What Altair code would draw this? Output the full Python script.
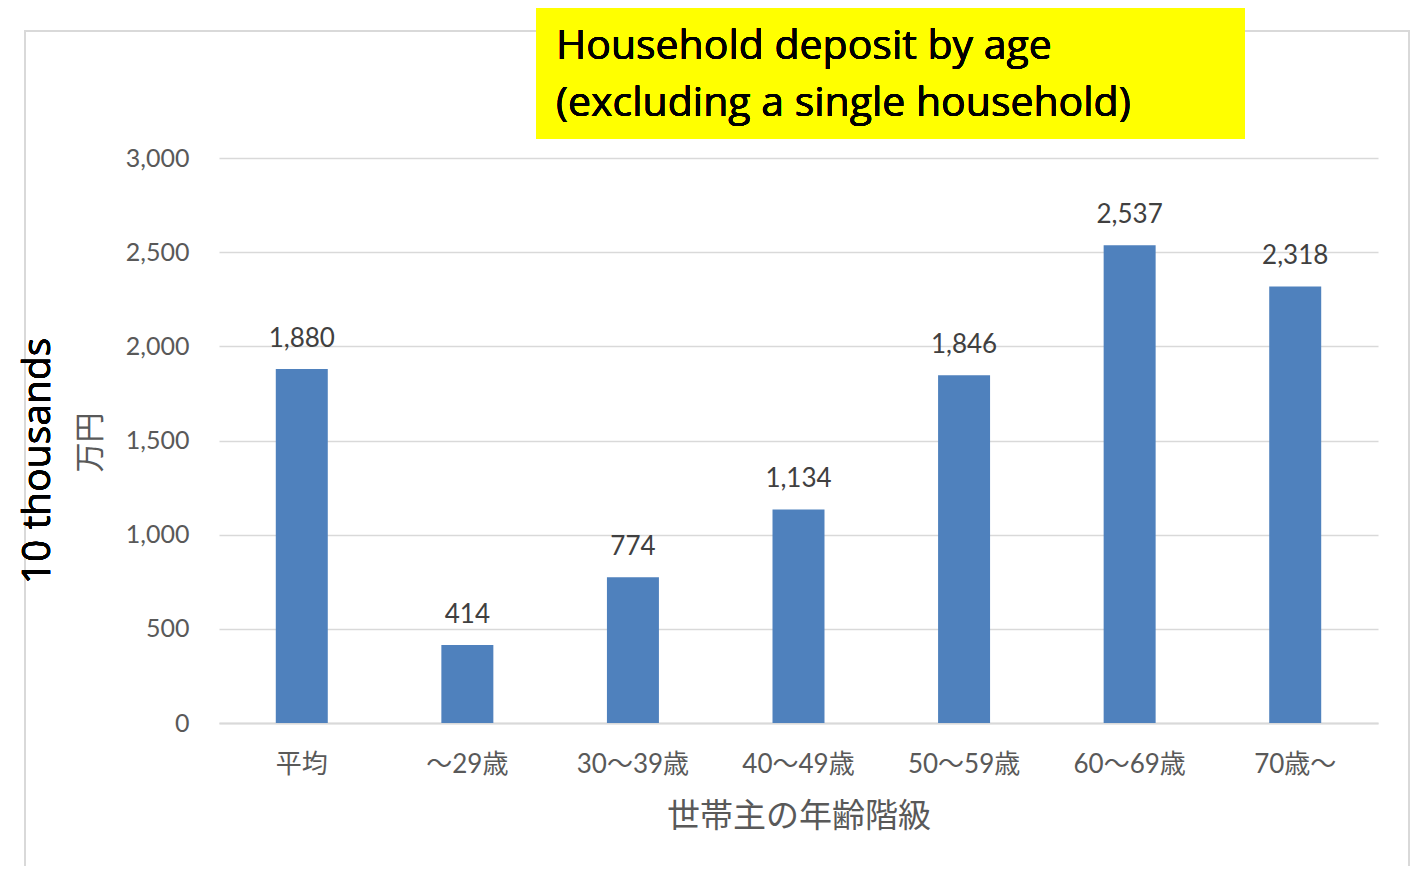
import altair as alt
import pandas as pd

categories = ["平均", "～29歳", "30～39歳", "40～49歳", "50～59歳", "60～69歳", "70歳～"]
values = [1880, 414, 774, 1134, 1846, 2537, 2318]
y_ticks = [0, 500, 1000, 1500, 2000, 2500, 3000]
title_lines = ["Household deposit by age", "(excluding a single household)"]
unit_label = "10 thousands"
y_title = "万円"
x_title = "世帯主の年齢階級"

df = pd.DataFrame({"cat": categories, "val": values})

LAT = "Lato, Noto Sans CJK JP, sans-serif"
OPS = "Open Sans, Noto Sans CJK JP, sans-serif"
GRAY = "#595959"

W, H = 1159, 565

base = alt.Chart(df)

border = base.mark_rect(fill=None, stroke="#d9d9d9", strokeWidth=2, clip=False).encode(
    x=alt.value(-194), x2=alt.value(1190), y=alt.value(-127), y2=alt.value(780)
)

bars = base.mark_bar(color="#4F81BD").encode(
    x=alt.X("cat:N", sort=categories,
            scale=alt.Scale(paddingInner=0.686, paddingOuter=0.343),
            axis=alt.Axis(title=x_title, labelAngle=0, labelFont=LAT, labelFontSize=26,
                          labelColor=GRAY, labelPadding=41, labelBaseline="middle",
                          ticks=False, tickSize=0, domainColor="#d9d9d9", domainWidth=2,
                          titleFont=LAT, titleFontSize=33, titleColor=GRAY,
                          titleFontWeight="normal", titleBaseline="middle",
                          titleX=W / 2, titleY=93, titleAnchor="middle")),
    y=alt.Y("val:Q", scale=alt.Scale(domain=[0, 3000], nice=False),
            axis=alt.Axis(values=y_ticks, format=",.0f", title=y_title, domain=False,
                          ticks=False, tickSize=0, labelFont=LAT, labelFontSize=25,
                          labelColor=GRAY, labelPadding=30, gridColor="#d9d9d9",
                          gridWidth=1.5, titleFont=LAT, titleFontSize=30,
                          titleColor=GRAY, titleFontWeight="normal", titleAngle=-90,
                          titleBaseline="middle", titleAlign="center",
                          titleX=-129, titleY=284)),
)

labels = base.mark_text(font=LAT, fontSize=26, color="#404040", baseline="alphabetic", dy=-22).encode(
    x=alt.X("cat:N", sort=categories),
    y="val:Q",
    text=alt.Text("val:Q", format=",.0f"),
)

yellow = base.mark_rect(fill="#FFFF00", clip=False).encode(
    x=alt.value(317), x2=alt.value(1026), y=alt.value(-154), y2=alt.value(-19)
)

t1 = base.mark_text(font=OPS, fontSize=41, color="#000000", align="left", baseline="alphabetic").encode(
    x=alt.value(337), y=alt.value(-99), text=alt.value(title_lines[0])
)
t2 = base.mark_text(font=OPS, fontSize=41, color="#000000", align="left", baseline="alphabetic").encode(
    x=alt.value(337), y=alt.value(-42), text=alt.value(title_lines[1])
)

unit = base.mark_text(font=OPS, fontSize=39, color="#000000", angle=270, align="center", baseline="alphabetic").encode(
    x=alt.value(-169), y=alt.value(303), text=alt.value(unit_label)
)

chart = alt.layer(border, bars, labels, yellow, t1, t2, unit).properties(
    width=W, height=H,
    autosize=alt.AutoSizeParams(type="none"),
    padding={"left": 211, "top": 150, "right": 32, "bottom": 143},
).configure_view(stroke=None)

chart.save("out.html", embed_options={"renderer": "svg", "actions": False})
